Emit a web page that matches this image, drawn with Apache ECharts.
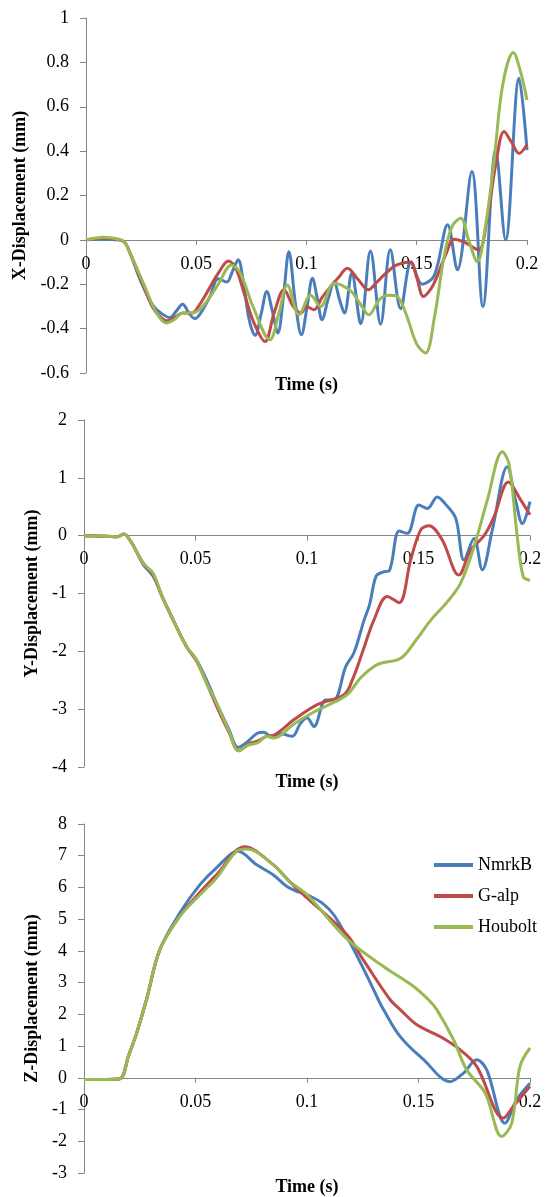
<!DOCTYPE html>
<html>
<head>
<meta charset="utf-8">
<script src="https://cdn.jsdelivr.net/npm/echarts@6/dist/echarts.min.js"></script>
<style>
  html, body { margin: 0; padding: 0; background: #ffffff; }
  #chart { width: 548px; height: 1197px; }
</style>
</head>
<body>
<div id="chart"></div>
<script>
// ---- Data (time in s, displacement in mm) ----
const seriesNames = ['NmrkB', 'G-alp', 'Houbolt'];
const xTicks = [0, 0.05, 0.1, 0.15, 0.2];

const xDispNmrkB = [[0,0],[0.005,0.003],[0.01,0.002],[0.015,0],[0.0175,-0.01],[0.02,-0.06],[0.025,-0.19],[0.03,-0.29],[0.034,-0.33],[0.038,-0.35],[0.041,-0.32],[0.0438,-0.29],[0.047,-0.335],[0.0494,-0.355],[0.052,-0.33],[0.056,-0.26],[0.06,-0.175],[0.0638,-0.19],[0.0665,-0.14],[0.069,-0.09],[0.0715,-0.2],[0.074,-0.36],[0.0767,-0.43],[0.0795,-0.33],[0.082,-0.233],[0.0845,-0.32],[0.087,-0.42],[0.0895,-0.26],[0.092,-0.053],[0.095,-0.29],[0.0977,-0.428],[0.1003,-0.3],[0.1027,-0.173],[0.105,-0.27],[0.107,-0.36],[0.11,-0.26],[0.1125,-0.19],[0.115,-0.27],[0.1172,-0.33],[0.1205,-0.15],[0.1246,-0.378],[0.129,-0.05],[0.1336,-0.38],[0.138,-0.045],[0.1427,-0.31],[0.1475,-0.1],[0.1525,-0.2],[0.158,-0.16],[0.164,0.068],[0.1684,-0.135],[0.175,0.308],[0.18,-0.3],[0.1858,0.405],[0.1903,0.0],[0.1964,0.728],[0.2,0.405]];
const xDispGalp = [[0,0],[0.008,0.008],[0.015,0],[0.0175,-0.01],[0.02,-0.06],[0.025,-0.18],[0.03,-0.3],[0.034,-0.35],[0.037,-0.365],[0.04,-0.35],[0.044,-0.33],[0.048,-0.33],[0.051,-0.3],[0.0547,-0.24],[0.06,-0.15],[0.0646,-0.095],[0.068,-0.13],[0.072,-0.25],[0.076,-0.37],[0.0812,-0.458],[0.0853,-0.33],[0.0898,-0.225],[0.094,-0.3],[0.0975,-0.33],[0.1,-0.3],[0.1034,-0.315],[0.107,-0.26],[0.111,-0.21],[0.1145,-0.17],[0.1185,-0.128],[0.1235,-0.18],[0.128,-0.225],[0.132,-0.19],[0.136,-0.15],[0.141,-0.113],[0.147,-0.1],[0.15,-0.17],[0.153,-0.255],[0.1565,-0.22],[0.159,-0.17],[0.163,-0.07],[0.167,0.003],[0.1715,-0.01],[0.178,-0.045],[0.182,0.1],[0.186,0.35],[0.1896,0.488],[0.193,0.44],[0.1964,0.39],[0.2,0.43]];
const xDispHoubolt = [[0,0],[0.008,0.012],[0.015,0.003],[0.0175,-0.01],[0.02,-0.06],[0.026,-0.195],[0.032,-0.33],[0.0366,-0.375],[0.04,-0.36],[0.0438,-0.33],[0.048,-0.33],[0.052,-0.31],[0.056,-0.26],[0.06,-0.2],[0.066,-0.113],[0.07,-0.15],[0.0757,-0.3],[0.0834,-0.45],[0.0875,-0.33],[0.0913,-0.203],[0.0966,-0.338],[0.1019,-0.25],[0.1064,-0.3],[0.1125,-0.195],[0.12,-0.23],[0.1245,-0.29],[0.1283,-0.338],[0.133,-0.27],[0.137,-0.25],[0.141,-0.255],[0.145,-0.33],[0.15,-0.47],[0.154,-0.51],[0.158,-0.35],[0.1624,-0.075],[0.166,0.06],[0.17,0.098],[0.1735,0.0],[0.1775,-0.098],[0.181,0.05],[0.185,0.35],[0.189,0.7],[0.1938,0.844],[0.197,0.76],[0.2,0.63]];

const yDispNmrkB = [[0,0],[0.01,-0.01],[0.015,-0.02],[0.0178,0.03],[0.021,-0.1],[0.0266,-0.5],[0.031,-0.7],[0.035,-1.05],[0.04,-1.46],[0.046,-1.92],[0.0505,-2.15],[0.055,-2.5],[0.0595,-2.9],[0.065,-3.35],[0.0691,-3.66],[0.0737,-3.55],[0.0775,-3.42],[0.0807,-3.4],[0.084,-3.48],[0.088,-3.42],[0.0934,-3.47],[0.097,-3.25],[0.1,-3.15],[0.1031,-3.3],[0.1084,-2.84],[0.112,-2.84],[0.1174,-2.26],[0.121,-2.03],[0.1256,-1.46],[0.128,-1.2],[0.131,-0.7],[0.134,-0.63],[0.137,-0.6],[0.1413,0.08],[0.145,0.04],[0.1502,0.53],[0.154,0.47],[0.1584,0.67],[0.162,0.55],[0.1667,0.3],[0.1704,-0.42],[0.1749,-0.05],[0.1786,-0.59],[0.1831,0.1],[0.1898,1.19],[0.1936,0.6],[0.1966,0.21],[0.2,0.59]];
const yDispGalp = [[0,0],[0.01,-0.01],[0.015,-0.02],[0.0178,0.03],[0.021,-0.1],[0.0266,-0.48],[0.031,-0.67],[0.035,-1.05],[0.04,-1.46],[0.046,-1.92],[0.0505,-2.17],[0.055,-2.55],[0.0595,-2.95],[0.065,-3.4],[0.0695,-3.72],[0.074,-3.6],[0.078,-3.55],[0.0819,-3.47],[0.0852,-3.45],[0.0942,-3.18],[0.1046,-2.92],[0.1166,-2.75],[0.1204,-2.49],[0.125,-2.0],[0.13,-1.46],[0.136,-1.05],[0.1413,-1.16],[0.1465,-0.42],[0.151,0.1],[0.1547,0.17],[0.1606,-0.07],[0.168,-0.68],[0.1734,-0.25],[0.1794,0.0],[0.1839,0.33],[0.1903,0.93],[0.1958,0.62],[0.2,0.36]];
const yDispHoubolt = [[0,0],[0.01,-0.01],[0.015,-0.02],[0.0178,0.03],[0.021,-0.1],[0.0266,-0.48],[0.031,-0.65],[0.035,-1.05],[0.04,-1.46],[0.046,-1.92],[0.0505,-2.15],[0.055,-2.55],[0.0595,-2.9],[0.065,-3.38],[0.0693,-3.72],[0.0737,-3.62],[0.078,-3.58],[0.0819,-3.47],[0.0852,-3.5],[0.094,-3.26],[0.1031,-3.05],[0.11,-2.92],[0.118,-2.75],[0.124,-2.46],[0.1315,-2.23],[0.142,-2.12],[0.149,-1.8],[0.1555,-1.46],[0.163,-1.14],[0.1689,-0.82],[0.1749,-0.19],[0.1809,0.62],[0.1876,1.45],[0.1906,1.24],[0.1943,-0.02],[0.197,-0.71],[0.2,-0.77]];

const zDispNmrkB = [[0,-0.05],[0.01,-0.05],[0.0161,-0.03],[0.02,0.7],[0.0236,1.41],[0.028,2.46],[0.034,4.04],[0.043,5.2],[0.052,6.09],[0.0594,6.62],[0.0691,7.14],[0.0773,6.72],[0.0848,6.4],[0.091,6.03],[0.0965,5.85],[0.1015,5.72],[0.107,5.5],[0.112,5.14],[0.1194,4.25],[0.127,3.2],[0.132,2.46],[0.1343,2.15],[0.1418,1.3],[0.1523,0.57],[0.1642,-0.12],[0.1702,0.15],[0.1761,0.57],[0.1806,0.25],[0.1888,-1.43],[0.194,-0.69],[0.2,-0.17]];
const zDispGalp = [[0,-0.05],[0.01,-0.05],[0.0161,-0.03],[0.02,0.7],[0.0236,1.41],[0.028,2.46],[0.034,4.04],[0.043,5.1],[0.052,5.85],[0.0594,6.4],[0.0721,7.28],[0.0848,6.72],[0.092,6.2],[0.1,5.67],[0.1179,4.51],[0.1254,3.7],[0.1373,2.46],[0.1418,2.15],[0.1493,1.67],[0.1597,1.3],[0.1687,0.88],[0.1761,0.36],[0.1881,-1.27],[0.1925,-0.9],[0.2,-0.27]];
const zDispHoubolt = [[0,-0.05],[0.01,-0.05],[0.0161,-0.03],[0.02,0.7],[0.0236,1.41],[0.028,2.46],[0.034,4.04],[0.043,5.09],[0.052,5.77],[0.0594,6.3],[0.0684,7.14],[0.0729,7.21],[0.0848,6.72],[0.092,6.2],[0.1,5.77],[0.1179,4.38],[0.1343,3.51],[0.1478,2.88],[0.1545,2.46],[0.1582,2.15],[0.1657,1.2],[0.1716,0.25],[0.1799,-0.48],[0.1873,-1.85],[0.1918,-1.43],[0.1955,0.36],[0.2,0.94]];

const panels = [
  { yName: 'X-Displacement (mm)', yMin: -0.6, yMax: 1, yInterval: 0.2, data: [xDispNmrkB, xDispGalp, xDispHoubolt] },
  { yName: 'Y-Displacement (mm)', yMin: -4, yMax: 2, yInterval: 1, data: [yDispNmrkB, yDispGalp, yDispHoubolt] },
  { yName: 'Z-Displacement (mm)', yMin: -3, yMax: 8, yInterval: 1, data: [zDispNmrkB, zDispGalp, zDispHoubolt] }
];

// ---- Layout / style ----
const colors = ['#4A7EBB', '#BE4B48', '#98B954'];
const FONT = '"Liberation Serif", "Times New Roman", serif';
const grids = [
  { left: 86, right: 21, top: 18, height: 355, outerBoundsMode: 'none', containLabel: false },
  { left: 84, right: 18, top: 420, height: 347, outerBoundsMode: 'none', containLabel: false },
  { left: 84, right: 18, top: 824, height: 349, outerBoundsMode: 'none', containLabel: false }
];
const xNameGaps = [136, 238, 101];
const yNameGaps = [54, 40, 40];
const axisColor = '#868686';

// x axis sits on the y = 0 line: shift it up from the grid bottom
function zeroOffset(p, g) {
  return -((0 - p.yMin) / (p.yMax - p.yMin)) * g.height;
}

const option = {
  animation: false,
  backgroundColor: '#ffffff',
  color: colors,
  grid: grids,
  legend: {
    data: seriesNames,
    orient: 'vertical',
    left: 429,
    top: 851,
    icon: 'rect',
    itemWidth: 39,
    itemHeight: 4,
    itemGap: 13,
    textStyle: { fontFamily: FONT, fontSize: 18, color: '#000' }
  },
  xAxis: panels.map((p, i) => ({
    type: 'value',
    gridIndex: i,
    position: 'bottom',
    offset: zeroOffset(p, grids[i]),
    min: 0, max: 0.2, interval: 0.05,
    name: 'Time (s)',
    nameLocation: 'middle',
    nameGap: xNameGaps[i],
    nameTextStyle: { fontFamily: FONT, fontSize: 18, fontWeight: 'bold', color: '#000' },
    axisLine: { onZero: false, lineStyle: { color: axisColor, width: 1 } },
    axisTick: { show: true, length: 5, lineStyle: { color: axisColor } },
    axisLabel: { fontFamily: FONT, fontSize: 18, color: '#000', margin: 15, hideOverlap: false,
                 formatter: v => String(+v.toFixed(2)) },
    splitLine: { show: false }
  })),
  yAxis: panels.map((p, i) => ({
    type: 'value',
    gridIndex: i,
    min: p.yMin, max: p.yMax, interval: p.yInterval,
    name: p.yName,
    nameLocation: 'middle',
    nameRotate: 90,
    nameGap: yNameGaps[i],
    nameTextStyle: { fontFamily: FONT, fontSize: 18, fontWeight: 'bold', color: '#000' },
    axisLine: { show: true, onZero: false, lineStyle: { color: axisColor, width: 1 } },
    axisTick: { show: true, length: 6, lineStyle: { color: axisColor } },
    axisLabel: { fontFamily: FONT, fontSize: 18, color: '#000', margin: 17,
                 formatter: v => String(+v.toFixed(1)) },
    splitLine: { show: false }
  })),
  series: []
};

panels.forEach((p, i) => {
  p.data.forEach((d, k) => {
    option.series.push({
      type: 'line',
      name: seriesNames[k],
      xAxisIndex: i,
      yAxisIndex: i,
      data: d,
      smooth: 0.35,
      symbol: 'none',
      lineStyle: { width: 3, color: colors[k] },
      itemStyle: { color: colors[k] },
      z: 2 + k
    });
  });
});

const chart = echarts.init(document.getElementById('chart'), null, { renderer: 'canvas' });
chart.setOption(option);
</script>
</body>
</html>
